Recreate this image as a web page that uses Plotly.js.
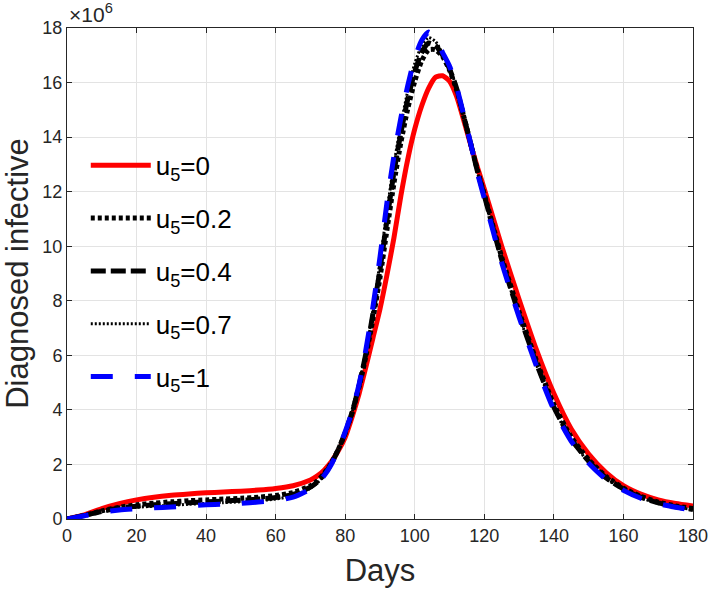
<!DOCTYPE html>
<html>
<head>
<meta charset="utf-8">
<script src="https://cdn.plot.ly/plotly-3.0.1.min.js"></script>
<style>html,body{margin:0;padding:0;background:#fff;}#chart{width:711px;height:592px;}</style>
</head>
<body>
<div id="chart"></div>
<script>
// Days (x values)
const days = [0,5,10,15,20,25,30,35,40,45,50,55,60,65,70,72,74,76,78,80,82,84,86,88,90,92,94,96,98,100,102,104,106,108,110,112,114,116,118,120,125,130,135,140,145,150,155,160,165,170,175,180];

// Diagnosed infective (millions)
const u5_0 = [0,0.15,0.38,0.56,0.7,0.8,0.87,0.92,0.96,0.99,1.02,1.06,1.12,1.22,1.43,1.58,1.8,2.1,2.5,3.0,3.75,4.6,5.6,6.65,7.7,8.95,10.3,11.85,13.2,14.3,15.15,15.8,16.2,16.25,16.05,15.5,14.65,13.75,12.9,12.1,10.0,8.05,6.2,4.6,3.3,2.38,1.7,1.22,0.91,0.7,0.57,0.48];
const u5_02 = [0,0.13,0.3,0.43,0.52,0.58,0.63,0.67,0.7,0.73,0.76,0.8,0.86,0.97,1.22,1.4,1.68,2.05,2.55,3.15,3.9,4.85,6.0,7.35,8.85,10.6,12.3,13.8,15.05,16.05,16.8,17.2,17.2,16.95,16.45,15.75,14.8,13.8,12.8,11.9,9.6,7.6,5.8,4.2,3.0,2.18,1.56,1.13,0.83,0.62,0.48,0.38];
const u5_04 = [0,0.13,0.28,0.4,0.47,0.52,0.56,0.6,0.63,0.66,0.69,0.73,0.79,0.9,1.17,1.36,1.64,2.03,2.55,3.17,3.92,4.9,6.1,7.55,9.15,10.95,12.7,14.15,15.4,16.4,17.1,17.45,17.35,17.0,16.5,15.8,14.8,13.8,12.75,11.85,9.5,7.5,5.7,4.1,2.93,2.12,1.51,1.1,0.8,0.59,0.45,0.35];
const u5_07 = [0,0.12,0.27,0.37,0.43,0.47,0.5,0.54,0.57,0.6,0.63,0.67,0.73,0.85,1.13,1.33,1.62,2.01,2.55,3.18,3.93,4.92,6.18,7.68,9.4,11.3,13.0,14.45,15.7,16.7,17.35,17.65,17.5,17.05,16.55,15.82,14.82,13.8,12.72,11.8,9.45,7.45,5.65,4.05,2.89,2.08,1.48,1.07,0.78,0.57,0.44,0.34];
const u5_1 = [0,0.12,0.25,0.33,0.38,0.41,0.44,0.48,0.52,0.55,0.58,0.62,0.68,0.8,1.1,1.3,1.6,2.0,2.55,3.2,3.95,4.95,6.25,7.8,9.6,11.6,13.3,14.7,15.9,16.9,17.55,17.85,17.6,17.1,16.6,15.85,14.85,13.8,12.7,11.75,9.4,7.4,5.6,4.0,2.85,2.05,1.45,1.05,0.76,0.56,0.43,0.33];

const seriesNames = ['u<sub>5</sub>=0','u<sub>5</sub>=0.2','u<sub>5</sub>=0.4','u<sub>5</sub>=0.7','u<sub>5</sub>=1'];
const xTicks = [0,20,40,60,80,100,120,140,160,180];
const yTicks = [0,2,4,6,8,10,12,14,16,18];

const scale = 1e6;
const toAbs = a => a.map(v => v * scale);

const styles = [
  {color:'#ff0000', width:5, dash:'solid'},
  {color:'#000000', width:5, dash:'4px,3px'},
  {color:'#000000', width:5, dash:'15px,5px'},
  {color:'#000000', width:3, dash:'2px,2px'},
  {color:'#0000ff', width:5, dash:'22px,22px'}
];
const ys = [u5_0,u5_02,u5_04,u5_07,u5_1];

const traces = ys.map((y,i) => ({
  x: days, y: toAbs(y), type:'scatter', mode:'lines',
  name: seriesNames[i], legendgroup: 'g'+i,
  line: {color: styles[i].color, width: styles[i].width, dash: styles[i].dash, shape:'spline', smoothing:0.6}
}));

const axisCommon = {
  showline:true, linecolor:'#262626', linewidth:1, mirror:'ticks',
  ticks:'inside', ticklen:5, tickcolor:'#262626',
  showgrid:true, gridcolor:'#e3e3e3', gridwidth:1, zeroline:false,
  tickfont:{family:'Liberation Sans, Arial, sans-serif', size:18, color:'#262626'}
};

const layout = {
  width:711, height:592,
  margin:{l:67, r:18, t:28, b:73},
  paper_bgcolor:'#ffffff', plot_bgcolor:'#ffffff',
  showlegend:true,
  xaxis: Object.assign({}, axisCommon, {
    range:[0,180], tickvals:xTicks, ticktext:xTicks.map(String),
    title:{text:'Days', font:{family:'Liberation Sans, Arial, sans-serif', size:31, color:'#262626'}, standoff:14}
  }),
  yaxis: Object.assign({}, axisCommon, {
    range:[0,18*scale], tickvals:yTicks.map(v=>v*scale), ticktext:yTicks.map(String),
    title:{text:'Diagnosed infective', font:{family:'Liberation Sans, Arial, sans-serif', size:31, color:'#262626'}, standoff:8}
  }),
  legend:{
    x:0.03, y:0.768, xanchor:'left', yanchor:'top',
    bgcolor:'rgba(255,255,255,0)', borderwidth:0,
    font:{family:'Liberation Sans, Arial, sans-serif', size:26, color:'#000000'},
    itemwidth:60, tracegroupgap:16
  },
  annotations:[{
    xref:'paper', yref:'paper', x:0, y:1, xanchor:'left', yanchor:'bottom',
    text:'×10<sup>6</sup>', showarrow:false,
    font:{family:'Liberation Sans, Arial, sans-serif', size:21, color:'#262626'}
  }]
};

Plotly.newPlot('chart', traces, layout, {displayModeBar:false, staticPlot:true});
</script>
</body>
</html>
